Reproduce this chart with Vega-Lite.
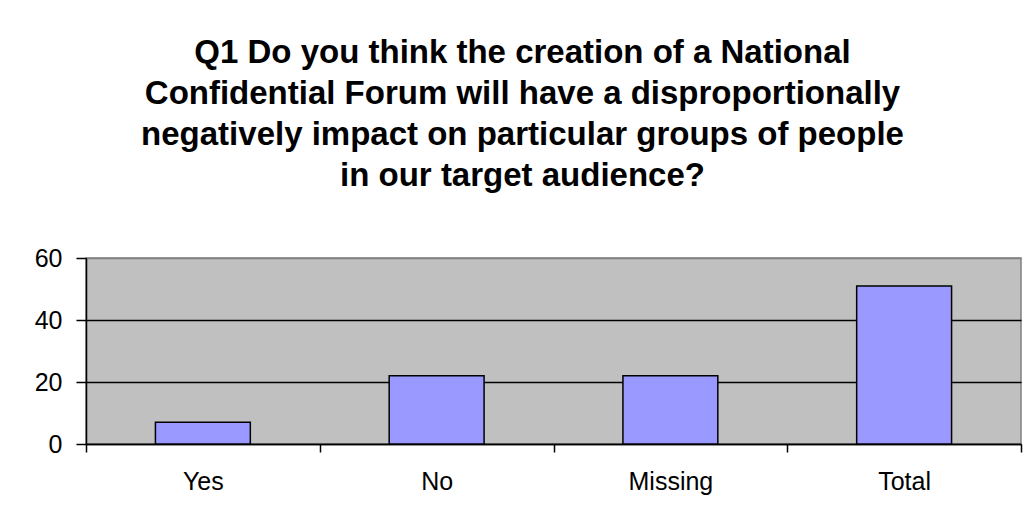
{
  "$schema": "https://vega.github.io/schema/vega-lite/v6.json",
  "width": 935,
  "height": 186,
  "autosize": {"type": "none"},
  "padding": {"left": 86, "top": 258, "right": 5, "bottom": 76},
  "background": "white",
  "title": {
    "text": ["Q1 Do you think the creation of a National", "Confidential Forum will have a disproportionally", "negatively impact on particular groups of people", "in our target audience?"],
    "font": "Liberation Sans",
    "fontSize": 33,
    "fontWeight": "bold",
    "color": "black",
    "lineHeight": 41,
    "anchor": "middle",
    "frame": "group",
    "dx": -31,
    "offset": 53
  },
  "data": {
    "values": [
      {"category": "Yes", "count": 7},
      {"category": "No", "count": 22},
      {"category": "Missing", "count": 22},
      {"category": "Total", "count": 51}
    ]
  },
  "mark": {"type": "bar", "fill": "#9999FF", "stroke": "black", "strokeWidth": 1.5, "width": {"band": 0.406}},
  "encoding": {
    "x": {
      "field": "category",
      "type": "nominal",
      "sort": null,
      "scale": {"paddingInner": 0, "paddingOuter": 0},
      "axis": {
        "title": null,
        "labelAngle": 0,
        "labelFont": "Liberation Sans",
        "labelFontSize": 25,
        "labelColor": "black",
        "tickBand": "extent",
        "tickSize": 8,
        "tickColor": "black",
        "tickWidth": 1.5,
        "domainColor": "black",
        "domainWidth": 1.5,
        "labelPadding": 17
      }
    },
    "y": {
      "field": "count",
      "type": "quantitative",
      "scale": {"domain": [0, 60], "nice": false},
      "axis": {
        "title": null,
        "values": [0, 20, 40, 60],
        "labelFont": "Liberation Sans",
        "labelFontSize": 25,
        "labelColor": "black",
        "tickSize": 10,
        "tickColor": "black",
        "tickWidth": 1.5,
        "domainColor": "black",
        "domainWidth": 1.5,
        "labelPadding": 14,
        "grid": true,
        "gridColor": {"condition": {"test": "datum.value == 60", "value": "#808080"}, "value": "black"},
        "gridWidth": 1.5,
        "gridOpacity": 1
      }
    }
  },
  "config": {
    "view": {"fill": "#C0C0C0", "stroke": "#808080", "strokeWidth": 1.5},
    "axis": {"gridDash": []}
  }
}
